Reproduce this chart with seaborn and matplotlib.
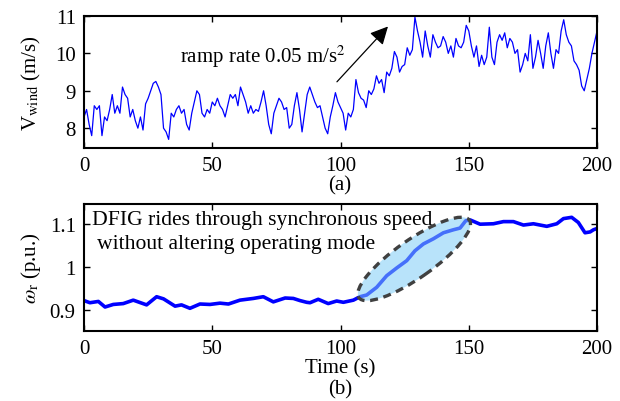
import numpy as np
import pandas as pd
import matplotlib
matplotlib.use("Agg")
import matplotlib.pyplot as plt
import matplotlib.transforms as mtransforms
from matplotlib.patches import Ellipse
import seaborn as sns

# ---------------- data ----------------
wind_time = np.arange(0, 201)  # s, 1 s sampling
wind_speed = [
    8.3, 8.5, 8.1, 7.8, 8.6, 8.5, 8.6, 7.8, 8.3, 8.2,
    8.5, 8.9, 8.4, 8.6, 8.4, 9.1, 8.9, 8.8, 8.3, 8.5,
    8.2, 8.0, 8.3, 7.95, 8.65, 8.8, 9.0, 9.2, 9.25, 9.1,
    8.9, 8.0, 7.9, 7.7, 8.4, 8.3, 8.5, 8.6, 8.4, 8.5,
    8.1, 7.95, 8.4, 8.7, 9.0, 8.9, 8.4, 8.3, 8.5, 8.4,
    8.7, 8.6, 8.8, 8.6, 8.5, 8.3, 8.6, 8.9, 8.8, 8.9,
    8.6, 9.1, 8.9, 8.7, 8.4, 8.6, 8.4, 8.5, 8.45, 8.7,
    9.0, 8.6, 8.1, 7.85, 8.4, 8.6, 8.8, 8.7, 8.5, 8.55,
    8.0, 8.1, 8.6, 8.95, 8.5, 7.9, 8.4, 8.9, 9.1, 8.9,
    8.7, 8.55, 8.6, 8.3, 8.0, 7.85, 8.3, 8.6, 8.95, 8.7,
    8.55, 8.4, 7.95, 8.4, 8.3, 8.5, 9.3, 8.95, 8.8, 8.75,
    8.55, 9.0, 8.9, 9.05, 9.4, 9.2, 9.3, 8.95, 9.5, 9.4,
    9.6, 10.05, 9.9, 9.5, 9.65, 9.7, 10.15, 9.95, 10.1, 10.97,
    10.6, 10.3, 9.9, 10.6, 10.2, 9.9, 10.5, 10.3, 10.15, 10.2,
    10.45, 10.3, 10.0, 10.2, 9.9, 10.4, 10.2, 10.15, 10.3, 10.75,
    10.6, 10.2, 9.9, 10.2, 9.65, 9.95, 9.7, 9.9, 10.7, 9.9,
    9.7, 10.3, 10.5, 10.35, 10.55, 10.15, 10.4, 10.3, 10.0, 10.1,
    9.5, 9.7, 10.0, 9.8, 10.5, 9.6, 9.9, 10.35, 10.0, 9.6,
    10.2, 10.55, 10.0, 9.6, 10.1, 10.0, 10.6, 10.9, 10.5, 10.3,
    10.2, 9.8, 9.7, 9.55, 9.13, 9.0, 9.3, 9.6, 10.0, 10.3,
    10.6,
]
rotor_time = [
    0, 2.3, 5.6, 8.2, 11.4, 15.3, 19.2, 24.4, 28.3, 31,
    35.5, 38, 41.3, 45.2, 49.1, 53, 56.3, 60.8, 66, 69.9,
    73.8, 78.4, 81.6, 84.2, 86.8, 88.1, 91.3, 95.2, 98.5, 101.1,
    105, 107.6, 110.2, 114.1, 118, 121.9, 125.8, 129, 132.3, 136.2,
    140.1, 144, 146.6, 148.8, 150.5, 154.4, 159.6, 163.5, 167.4, 171.3,
    175.2, 180.4, 184.3, 186.9, 190.1, 192.7, 195.3, 197.3, 198.6, 200,
]
rotor_speed = [
    0.922, 0.917, 0.920, 0.907, 0.913, 0.915, 0.923, 0.912, 0.931, 0.926,
    0.909, 0.912, 0.904, 0.914, 0.913, 0.916, 0.914, 0.923, 0.927, 0.931,
    0.919, 0.928, 0.927, 0.922, 0.918, 0.917, 0.925, 0.915, 0.921, 0.918,
    0.923, 0.931, 0.935, 0.953, 0.980, 0.998, 1.015, 1.038, 1.054, 1.066,
    1.080, 1.087, 1.091, 1.108, 1.110, 1.100, 1.101, 1.106, 1.106, 1.098,
    1.101, 1.095, 1.101, 1.113, 1.116, 1.104, 1.080, 1.082, 1.087, 1.090,
]
x_ticks = [0, 50, 100, 150, 200]
wind_yticks = [8, 9, 10, 11]
rotor_yticks = [0.9, 1.0, 1.1]
rotor_yticklabels = ["0.9", "1", "1.1"]

# ---------------- style ----------------
sns.set_theme(style="white")
plt.rcParams["font.family"] = ["Liberation Serif", "DejaVu Serif"]
plt.rcParams["mathtext.fontset"] = "stix"
plt.rcParams["text.color"] = "black"
plt.rcParams["axes.labelcolor"] = "black"

FS = 15
fig = plt.figure(figsize=(6.2, 4.02), dpi=100)
ax1 = fig.add_axes([0.1355, 0.6294, 0.8275, 0.3283])
ax2 = fig.add_axes([0.1355, 0.174, 0.8275, 0.316])

wind_df = pd.DataFrame({"t": wind_time, "v": wind_speed})
rotor_df = pd.DataFrame({"t": rotor_time, "w": rotor_speed})

sns.lineplot(data=wind_df, x="t", y="v", ax=ax1, color="#0000ff",
             linewidth=0.9, estimator=None, sort=False)
sns.lineplot(data=rotor_df, x="t", y="w", ax=ax2, color="#0000ff",
             linewidth=2.6, estimator=None, sort=False)

for ax in (ax1, ax2):
    ax.set_xlim(0, 200)
    ax.set_xticks(x_ticks)
    ax.tick_params(axis="both", which="both", direction="in", length=4,
                   width=1.0, bottom=True, left=True, top=True, right=True,
                   labelsize=FS, pad=6, colors="black")
    for s in ax.spines.values():
        s.set_linewidth(1.5)
        s.set_color("black")
    ax.set_xlabel("")

ax1.set_ylim(7.47, 11)
ax1.set_yticks(wind_yticks)
ax1.set_ylabel(r"V$_\mathrm{wind}$ (m/s)", fontsize=FS, color="black")
ax1.yaxis.set_label_coords(-0.08, 0.5)

ax2.set_ylim(0.851, 1.147)
ax2.set_yticks(rotor_yticks)
ax2.set_yticklabels(rotor_yticklabels)
ax2.set_ylabel(r"$\omega_\mathrm{r}$ (p.u.)", fontsize=FS, color="black")
ax2.yaxis.set_label_coords(-0.08, 0.5)

# ramp annotation
ax1.text(37.5, 9.93, r"ramp rate 0.05 m/s$^2$", fontsize=FS, va="center",
         ha="left", color="black")
ax1.annotate("", xy=(118.5, 10.72), xytext=(98.6, 9.24),
             arrowprops=dict(arrowstyle="-|>,head_length=0.9,head_width=0.45",
                             color="black", lw=0.9, shrinkA=0, shrinkB=0))

# ellipse around the transition
trans = fig.dpi_scale_trans + mtransforms.ScaledTranslation(128.7, 1.019, ax2.transData)
ell = Ellipse((0, 0), width=1.35, height=0.38, angle=35, transform=trans,
              facecolor="#7fcdf6", alpha=0.55, edgecolor="none", zorder=3)
ax2.add_patch(ell)
ell2 = Ellipse((0, 0), width=1.35, height=0.38, angle=35, transform=trans,
               facecolor="none", edgecolor="#404040", linewidth=2.4,
               linestyle=(0, (2.4, 1.7)), zorder=4)
ax2.add_patch(ell2)

ax2.text(3.0, 1.111, "DFIG rides through synchronous speed",
         fontsize=15.6, ha="left", va="center", zorder=5, color="black")
ax2.text(5.2, 1.056, "without altering operating mode",
         fontsize=15.6, ha="left", va="center", zorder=5, color="black")

fig.text(0.548, 0.537, "(a)", fontsize=FS, ha="center", va="center", color="black")
fig.text(0.548, 0.083, "Time (s)", fontsize=FS, ha="center", va="center", color="black")
fig.text(0.548, 0.030, "(b)", fontsize=FS, ha="center", va="center", color="black")

fig.savefig("out.png", dpi=100, facecolor="white")
